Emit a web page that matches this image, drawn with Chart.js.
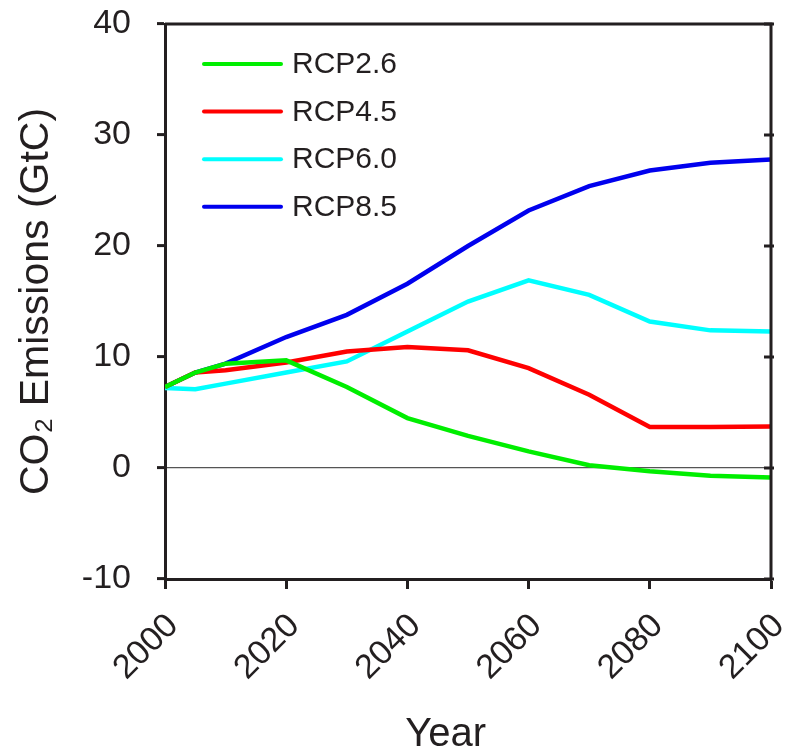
<!DOCTYPE html>
<html>
<head>
<meta charset="utf-8">
<script src="https://cdn.jsdelivr.net/npm/chart.js@4/dist/chart.umd.min.js"></script>
<style>
  html, body { margin: 0; padding: 0; background: #fff; }
  #wrap { width: 796px; height: 752px; }
</style>
</head>
<body>
<div id="wrap"><canvas id="co2Chart" width="796" height="752"></canvas></div>
<script>
// data (GtC per year)
const years = [2000, 2005, 2010, 2020, 2030, 2040, 2050, 2060, 2070, 2080, 2090, 2100];
const rcp26 = [7.3, 8.6, 9.4, 9.7, 7.3, 4.5, 2.9, 1.5, 0.25, -0.3, -0.7, -0.85];
const rcp45 = [7.3, 8.6, 8.8, 9.5, 10.5, 10.9, 10.6, 9.0, 6.6, 3.7, 3.7, 3.75];
const rcp60 = [7.2, 7.1, 7.6, 8.6, 9.6, 12.3, 15.0, 16.9, 15.6, 13.2, 12.4, 12.3];
const rcp85 = [7.3, 8.6, 9.4, 11.8, 13.8, 16.6, 20.0, 23.2, 25.4, 26.8, 27.5, 27.8];
const seriesNames = ['RCP2.6', 'RCP4.5', 'RCP6.0', 'RCP8.5'];
const seriesColors = ['#00ee00', '#ff0000', '#00ffff', '#0000ee'];

const ink = '#231f20';
const fontFam = "'Liberation Sans', Arial, Helvetica, sans-serif";

function toPoints(vals) {
    return years.map((y, i) => ({ x: y, y: vals[i] }));
}

// frame (top/right border), right-side ticks and legend inside the plot
const framePlugin = {
    id: 'frame',
    afterDraw(chart) {
        const { ctx, chartArea: a, scales } = chart;
        ctx.save();
        ctx.strokeStyle = ink;
        ctx.lineWidth = 3;
        ctx.beginPath();
        ctx.moveTo(a.left, a.top);
        ctx.lineTo(a.right, a.top);
        ctx.lineTo(a.right, a.bottom);
        ctx.stroke();
        scales.y.ticks.forEach(t => {
            const py = scales.y.getPixelForValue(t.value);
            ctx.beginPath();
            ctx.moveTo(a.right - 7, py);
            ctx.lineTo(a.right + 3, py);
            ctx.stroke();
        });

        // legend
        ctx.font = '30px ' + fontFam;
        ctx.textBaseline = 'middle';
        ctx.fillStyle = ink;
        chart.data.datasets.forEach((ds, i) => {
            const ly = a.top + 40 + i * 47.6;
            ctx.strokeStyle = ds.borderColor;
            ctx.lineWidth = 4;
            ctx.lineCap = 'round';
            ctx.beginPath();
            ctx.moveTo(a.left + 39, ly);
            ctx.lineTo(a.left + 116, ly);
            ctx.stroke();
            ctx.fillText(ds.label, a.left + 127, ly + 1);
        });
        ctx.restore();
    }
};

new Chart(document.getElementById('co2Chart').getContext('2d'), {
    type: 'line',
    data: {
        datasets: [rcp26, rcp45, rcp60, rcp85].map((vals, i) => ({
            label: seriesNames[i],
            data: toPoints(vals),
            borderColor: seriesColors[i],
            borderWidth: 4.5,
            pointRadius: 0,
            tension: 0,
            fill: false
        }))
    },
    options: {
        responsive: false,
        animation: false,
        layout: { padding: { top: 0, right: 25, bottom: 0, left: 10 } },
        plugins: { legend: { display: false }, tooltip: { enabled: false } },
        scales: {
            x: {
                type: 'linear',
                min: 2000, max: 2100,
                border: { color: ink, width: 3 },
                grid: { drawOnChartArea: false, tickColor: ink, tickWidth: 3, tickLength: 10 },
                ticks: {
                    stepSize: 10,
                    color: ink,
                    font: { size: 34, family: fontFam },
                    minRotation: 45, maxRotation: 45,
                    padding: 17,
                    labelOffset: 8,
                    callback: v => (v % 20 === 0 ? String(v) : '')
                },
                // trailing spaces nudge the centred title left, as in the source figure
                title: { display: true, text: 'Year\u00a0\u00a0\u00a0\u00a0', color: ink, font: { size: 40, family: fontFam, lineHeight: 0.85 }, padding: { top: 0, bottom: 0 } },
                afterFit: s => { s.height = 752 - 579; s.paddingLeft = 0; s.paddingRight = 0; }
            },
            y: {
                min: -10, max: 40,
                border: { color: ink, width: 3 },
                grid: {
                    color: c => (c.tick && c.tick.value === 0 ? '#555' : 'rgba(0,0,0,0)'),
                    lineWidth: 1.2,
                    tickColor: ink, tickWidth: 3, tickLength: 8
                },
                ticks: {
                    stepSize: 10,
                    color: ink,
                    font: { size: 34, family: fontFam },
                    padding: 26
                },
                title: { display: true, text: 'CO₂ Emissions (GtC)', color: ink, font: { size: 41, family: fontFam }, padding: { top: 2, bottom: 0 } },
                afterFit: s => { s.width = 165 - 10; s.paddingTop = 24; s.paddingBottom = 20; }
            }
        }
    },
    plugins: [framePlugin]
});
</script>
</body>
</html>
